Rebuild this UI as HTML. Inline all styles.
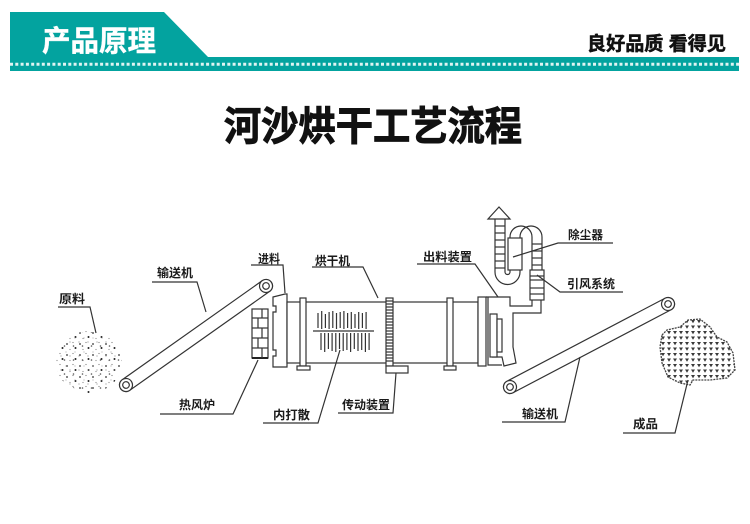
<!DOCTYPE html>
<html><head><meta charset="utf-8">
<style>
html,body{margin:0;padding:0;background:#fff;}
svg{display:block;}
text{font-family:"Liberation Sans","Noto Sans CJK SC",sans-serif;}
.l{font-size:12px;font-weight:bold;fill:#1a1a1a;}
.s{fill:none;stroke:#333;stroke-width:1.2;}
.w{fill:#fff;stroke:#333;stroke-width:1.2;}
</style></head><body>
<svg width="750" height="524" viewBox="0 0 750 524" xmlns="http://www.w3.org/2000/svg">
<defs>
 <pattern id="dots1" width="13" height="11" patternUnits="userSpaceOnUse">
   <circle cx="2" cy="3" r="0.9" fill="#333"/>
   <circle cx="8" cy="1.5" r="0.6" fill="#777"/>
   <circle cx="10.5" cy="7" r="1.0" fill="#222"/>
   <circle cx="5" cy="8.5" r="0.6" fill="#888"/>
 </pattern>
 <pattern id="dots2" width="9" height="14" patternUnits="userSpaceOnUse">
   <circle cx="3" cy="2" r="0.5" fill="#888"/>
   <circle cx="7" cy="6" r="0.6" fill="#999"/>
   <circle cx="1.5" cy="10" r="0.8" fill="#555"/>
 </pattern>
 <pattern id="tri" width="6" height="5.5" patternUnits="userSpaceOnUse">
   <path d="M1,1 L5,1 L3,4.3 Z" fill="#3a3a3a"/>
 </pattern>
</defs>

<!-- Header -->
<polygon points="10,12 164,12 208,57 739,57 739,71 10,71" fill="#03a39f"/>
<line x1="10" y1="64.3" x2="739" y2="64.3" stroke="#dff3f2" stroke-width="3" stroke-dasharray="3 2.3"/>
<text x="42" y="51" font-size="29" font-weight="bold" fill="#fff" stroke="#fff" stroke-width="0.4" textLength="114" lengthAdjust="spacingAndGlyphs">产品原理</text>
<text x="587" y="50" font-size="19" font-weight="bold" fill="#111" stroke="#111" stroke-width="0.5" textLength="139" lengthAdjust="spacingAndGlyphs">良好品质 看得见</text>

<!-- Title -->
<text x="224" y="140" font-size="40" font-weight="bold" fill="#111" stroke="#111" stroke-width="1" textLength="298" lengthAdjust="spacingAndGlyphs">河沙烘干工艺流程</text>

<!-- Raw material pile -->
<ellipse cx="89" cy="362" rx="33" ry="31" fill="url(#dots1)"/>
<ellipse cx="89" cy="362" rx="31" ry="30" fill="url(#dots2)"/>

<!-- Left conveyor -->
<g transform="translate(126,385) rotate(-35.27)">
  <rect x="-6.5" y="-6.5" width="184.5" height="13" rx="6.5" class="w"/>
  <circle cx="0" cy="0" r="6.5" class="w"/><circle cx="0" cy="0" r="3.3" class="s"/>
  <circle cx="171.5" cy="0" r="6.5" class="w"/><circle cx="171.5" cy="0" r="3.3" class="s"/>
</g>

<!-- Right conveyor -->
<g transform="translate(510,387) rotate(-27.71)">
  <rect x="-6.5" y="-6.5" width="191.5" height="13" rx="6.5" class="w"/>
  <circle cx="0" cy="0" r="6.5" class="w"/><circle cx="0" cy="0" r="3.3" class="s"/>
  <circle cx="178.5" cy="0" r="6.5" class="w"/><circle cx="178.5" cy="0" r="3.3" class="s"/>
</g>

<!-- Product blob -->
<path d="M662,335 L667,330 L680,327 L688,320 L700,319 L710,327 L717,337 L727,342 L733,353 L735,370 L727,378 L710,380 L693,380 L690,385 L680,383 L668,377 L662,363 L660,347 Z" fill="url(#tri)" stroke="#444" stroke-width="1.3" stroke-dasharray="2 1"/>

<!-- Brick furnace -->
<rect x="252" y="309" width="16" height="49" class="w"/>
<line x1="252" y1="358" x2="268" y2="358" stroke="#222" stroke-width="2"/>
<g class="s">
<line x1="252" y1="318" x2="268" y2="318"/>
<line x1="252" y1="328" x2="268" y2="328"/>
<line x1="252" y1="338" x2="268" y2="338"/>
<line x1="252" y1="348" x2="268" y2="348"/>
<line x1="262" y1="309" x2="262" y2="318"/>
<line x1="258" y1="318" x2="258" y2="328"/>
<line x1="262" y1="328" x2="262" y2="338"/>
<line x1="258" y1="338" x2="258" y2="348"/>
<line x1="262" y1="348" x2="262" y2="358"/>
</g>

<!-- Feed head -->
<path d="M273,297 L285,294 L287,294 L287,367 L273,367 L273,356 L276,356 L276,350 L273,350 L273,312 L276,312 L276,306 L273,306 Z" class="w"/>

<!-- Drum -->
<rect x="287" y="302" width="191" height="61" class="w"/>
<!-- rings -->
<rect x="300" y="298" width="6" height="68" class="w"/>
<rect x="297" y="366" width="13" height="4" class="w"/>
<rect x="447" y="298" width="6" height="68" class="w"/>
<rect x="444" y="366" width="12" height="4" class="w"/>
<!-- gear -->
<rect x="386" y="298" width="7" height="68" class="w"/>
<g class="s" stroke-width="0.8">
<line x1="386" y1="301" x2="393" y2="301"/><line x1="386" y1="304" x2="393" y2="304"/>
<line x1="386" y1="307" x2="393" y2="307"/><line x1="386" y1="310" x2="393" y2="310"/>
<line x1="386" y1="313" x2="393" y2="313"/><line x1="386" y1="316" x2="393" y2="316"/>
<line x1="386" y1="319" x2="393" y2="319"/><line x1="386" y1="322" x2="393" y2="322"/>
<line x1="386" y1="325" x2="393" y2="325"/><line x1="386" y1="328" x2="393" y2="328"/>
<line x1="386" y1="331" x2="393" y2="331"/><line x1="386" y1="334" x2="393" y2="334"/>
<line x1="386" y1="337" x2="393" y2="337"/><line x1="386" y1="340" x2="393" y2="340"/>
<line x1="386" y1="343" x2="393" y2="343"/><line x1="386" y1="346" x2="393" y2="346"/>
<line x1="386" y1="349" x2="393" y2="349"/><line x1="386" y1="352" x2="393" y2="352"/>
<line x1="386" y1="355" x2="393" y2="355"/><line x1="386" y1="358" x2="393" y2="358"/>
<line x1="386" y1="361" x2="393" y2="361"/>
</g>
<rect x="386" y="366" width="22" height="7" class="w"/>

<!-- lifters -->
<g class="s" stroke-width="1">
<line x1="313" y1="331" x2="374" y2="331"/>
<line x1="318" y1="313" x2="318" y2="328"/><line x1="321.7" y1="311" x2="321.7" y2="329"/>
<line x1="325.4" y1="314" x2="325.4" y2="328"/><line x1="329.1" y1="312" x2="329.1" y2="329"/>
<line x1="332.8" y1="311" x2="332.8" y2="328"/><line x1="336.5" y1="313" x2="336.5" y2="329"/>
<line x1="340.2" y1="312" x2="340.2" y2="328"/><line x1="343.9" y1="311" x2="343.9" y2="329"/>
<line x1="347.6" y1="313" x2="347.6" y2="328"/><line x1="351.3" y1="312" x2="351.3" y2="329"/>
<line x1="355" y1="314" x2="355" y2="328"/><line x1="358.7" y1="312" x2="358.7" y2="329"/>
<line x1="362.4" y1="313" x2="362.4" y2="328"/><line x1="366.1" y1="312" x2="366.1" y2="329"/>
<line x1="321" y1="333" x2="321" y2="350"/><line x1="324.7" y1="333" x2="324.7" y2="352"/>
<line x1="328.4" y1="333" x2="328.4" y2="349"/><line x1="332.1" y1="333" x2="332.1" y2="351"/>
<line x1="335.8" y1="333" x2="335.8" y2="352"/><line x1="339.5" y1="333" x2="339.5" y2="349"/>
<line x1="343.2" y1="333" x2="343.2" y2="351"/><line x1="346.9" y1="333" x2="346.9" y2="350"/>
<line x1="350.6" y1="333" x2="350.6" y2="352"/><line x1="354.3" y1="333" x2="354.3" y2="349"/>
<line x1="358" y1="333" x2="358" y2="351"/><line x1="361.7" y1="333" x2="361.7" y2="350"/>
<line x1="365.4" y1="333" x2="365.4" y2="352"/><line x1="369.1" y1="333" x2="369.1" y2="350"/>
</g>

<!-- Discharge end -->
<rect x="478" y="297" width="8" height="69" class="w"/>
<g class="s">
<path d="M486,297 L510,297 L510,306 L532,306 L532,300"/>
<path d="M541,300 L541,313 L513,313 L513,347 L516,363 L504,366 L502,357 L492,357"/>
<path d="M488,297 L488,365 L502,365"/>
</g>
<rect x="490" y="314" width="7" height="43" class="w"/>
<rect x="497" y="319" width="5" height="33" class="w"/>

<!-- Stack / dust collector / fan -->
<g class="s">
<path d="M495,219 L495,272 A12.5,12.5 0 0 0 520,272 L520,237 A11,11 0 0 1 542,237 L542,270"/>
<path d="M505,219 L505,272 A2.5,2.5 0 0 0 510,272 L510,237 A11,11 0 0 1 532,237 L532,270"/>
<line x1="495" y1="226" x2="505" y2="226"/><line x1="495" y1="233" x2="505" y2="233"/>
<line x1="495" y1="240" x2="505" y2="240"/><line x1="495" y1="247" x2="505" y2="247"/>
<line x1="495" y1="254" x2="505" y2="254"/><line x1="495" y1="261" x2="505" y2="261"/>
<line x1="495" y1="268" x2="505" y2="268"/>
<line x1="532" y1="244" x2="542" y2="244"/><line x1="532" y1="251" x2="542" y2="251"/>
<line x1="532" y1="258" x2="542" y2="258"/><line x1="532" y1="265" x2="542" y2="265"/>
</g>
<polygon points="499,207 510,219 488,219" class="w"/>
<rect x="508" y="238" width="14" height="32" class="w"/>
<rect x="530" y="270" width="14" height="30" class="w"/>
<g class="s">
<line x1="530" y1="276" x2="544" y2="276"/><line x1="530" y1="280" x2="544" y2="280"/>
<line x1="530" y1="288" x2="544" y2="288"/><line x1="530" y1="294" x2="544" y2="294"/>
</g>

<!-- Leader lines -->
<g class="s" stroke-width="1">
<polyline points="58,307 90,307 96,333"/>
<polyline points="152,282 197,282 206,312"/>
<polyline points="251,265 283,265 285,293"/>
<polyline points="312,267 363,267 378,298"/>
<polyline points="417,264 475,264 498,297"/>
<polyline points="513,257 558,243 613,243"/>
<polyline points="537,275 560,292 623,292"/>
<polyline points="160,414 233,414 258,360"/>
<polyline points="263,423 318,423 340,350"/>
<polyline points="338,413 393,413 396,373"/>
<polyline points="502,422 565,422 580,357"/>
<polyline points="623,433 675,433 688,380"/>
</g>

<!-- Labels -->
<text class="l" x="59" y="303" textLength="26" lengthAdjust="spacingAndGlyphs">原料</text>
<text class="l" x="157" y="277" textLength="36" lengthAdjust="spacingAndGlyphs">输送机</text>
<text class="l" x="258" y="263" textLength="22" lengthAdjust="spacingAndGlyphs">进料</text>
<text class="l" x="315" y="265" textLength="35" lengthAdjust="spacingAndGlyphs">烘干机</text>
<text class="l" x="423" y="261" textLength="49" lengthAdjust="spacingAndGlyphs">出料装置</text>
<text class="l" x="568" y="239" textLength="35" lengthAdjust="spacingAndGlyphs">除尘器</text>
<text class="l" x="567" y="288" textLength="48" lengthAdjust="spacingAndGlyphs">引风系统</text>
<text class="l" x="179" y="409" textLength="36" lengthAdjust="spacingAndGlyphs">热风炉</text>
<text class="l" x="273" y="419" textLength="37" lengthAdjust="spacingAndGlyphs">内打散</text>
<text class="l" x="342" y="409" textLength="48" lengthAdjust="spacingAndGlyphs">传动装置</text>
<text class="l" x="522" y="418" textLength="36" lengthAdjust="spacingAndGlyphs">输送机</text>
<text class="l" x="633" y="428" textLength="25" lengthAdjust="spacingAndGlyphs">成品</text>
</svg>
</body></html>
